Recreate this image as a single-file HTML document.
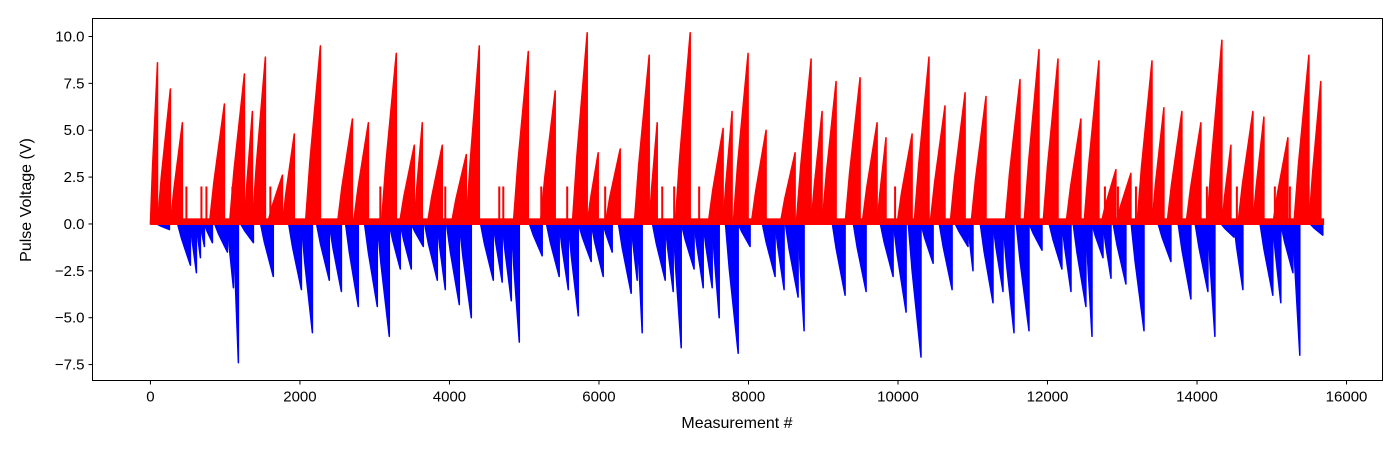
<!DOCTYPE html>
<html><head><meta charset="utf-8"><style>
body{margin:0;background:#fff;}
svg text{font-family:"Liberation Sans","DejaVu Sans",sans-serif;fill:#000;}
</style></head><body>
<svg id="chart" width="1400" height="450" xmlns="http://www.w3.org/2000/svg">
<g id="marks"></g>
<rect x="92.5" y="18.5" width="1290" height="362" fill="none" stroke="#000" stroke-width="1"/>
<g id="xticks"></g><g id="yticks"></g>
<text x="737" y="428" font-size="16" text-anchor="middle">Measurement #</text>
<text transform="translate(31,200) rotate(-90)" font-size="16" text-anchor="middle">Pulse Voltage (V)</text>
</svg>
<script>
const posPeakX=[94,267,428,989,1257,1364,1538,1765,1925,2273,2701,2915,3289,3530,3637,3904,4225,4399,5054,5415,5843,5990,6284,6672,6779,7220,7661,7781,7995,8236,8624,8838,8985,9172,9493,9720,9840,10188,10415,10629,10897,11177,11632,11886,12140,12447,12688,12915,13116,13397,13557,13798,14052,14333,14453,14747,14894,15215,15496,15656];
const posPeakV=[8.6,7.2,5.4,6.4,8.0,6.0,8.9,2.6,4.8,9.5,5.6,5.4,9.1,4.2,5.4,4.2,3.7,9.5,9.2,7.1,10.2,3.8,4.0,9.0,5.4,10.2,5.1,6.0,9.1,5.0,3.8,8.8,6.0,7.6,7.8,5.4,4.6,4.8,8.9,6.3,7.0,6.8,7.7,9.3,8.8,5.6,8.7,2.9,2.7,8.7,6.2,6.0,5.4,9.8,4.2,6.0,5.7,4.6,9.0,7.6];
const negTroughX=[254,535,615,668,722,829,1029,1110,1177,1377,1644,2019,2166,2393,2554,2781,3035,3195,3343,3490,3650,3837,3944,4131,4292,4586,4706,4827,4934,5241,5468,5589,5723,5896,6057,6177,6431,6511,6578,6886,6993,7100,7273,7394,7514,7608,7862,8022,8356,8477,8664,8744,9292,9573,9934,10108,10308,10469,10723,10937,11003,11271,11405,11552,11752,11926,12193,12314,12514,12595,12742,12849,13049,13290,13651,13918,14145,14239,14493,14613,15014,15121,15282,15375,15683];
const negTroughV=[-0.3,-2.2,-2.6,-1.8,-1.2,-1.0,-1.5,-3.4,-7.4,-1.0,-2.8,-3.5,-5.8,-3.0,-3.6,-4.4,-4.4,-6.0,-2.4,-2.4,-1.2,-3.0,-3.5,-4.3,-5.0,-3.0,-3.1,-4.1,-6.3,-1.7,-2.8,-3.5,-4.9,-2.0,-2.8,-1.5,-3.7,-3.0,-5.8,-3.0,-3.6,-6.6,-2.4,-3.4,-3.4,-5.0,-6.9,-1.2,-2.8,-3.5,-3.9,-5.7,-3.8,-3.6,-2.8,-4.7,-7.1,-2.1,-3.5,-1.2,-2.5,-4.2,-3.6,-5.8,-5.7,-1.4,-2.4,-3.6,-4.4,-6.0,-1.8,-2.9,-3.2,-5.7,-2.0,-4.0,-3.6,-6.0,-0.7,-3.5,-3.8,-4.2,-2.6,-7.0,-0.6];
const spikeX=[481,682,749,1096,1444,1604,2875,3075,3944,4666,4720,5228,5575,5682,6083,6565,6846,7006,7340,7701,8129,8543,8891,9961,10094,11030,11806,12621,12768,12942,13183,14132,14239,14533,14707,15041,15242,15630];
const spikeV=[2.0,2.0,2.0,2.0,2.0,2.0,2.0,2.0,2.0,2.0,2.0,2.0,2.0,2.0,2.0,2.0,2.0,2.0,2.0,2.0,2.0,2.0,2.0,2.0,2.0,2.0,2.0,2.0,2.0,2.0,2.0,2.0,2.0,2.0,2.0,2.0,2.0,2.0];
const xTickVals=[0,2000,4000,6000,8000,10000,12000,14000,16000];
const yTickVals=[-7.5,-5.0,-2.5,0.0,2.5,5.0,7.5,10.0];
const seriesEnd=15700;

const NS="http://www.w3.org/2000/svg";
const X0=92.5,X1=1382.5,Y0=18.5,Y1=380.5,xMin=-775,xMax=16481,yMin=-8.35,yMax=10.96;
const sx=v=>X0+(v-xMin)/(xMax-xMin)*(X1-X0);
const sy=v=>Y0+(yMax-v)/(yMax-yMin)*(Y1-Y0);
const marks=document.getElementById('marks');
function poly(pts,color,name){
  const p=document.createElementNS(NS,'polygon');
  p.setAttribute('points',pts.map(q=>sx(q[0]).toFixed(1)+','+sy(q[1]).toFixed(1)).join(' '));
  p.setAttribute('fill',color);p.setAttribute('stroke',color);p.setAttribute('stroke-width','1.5');
  p.setAttribute('stroke-linejoin','round');
  
  
  marks.appendChild(p);
}
let prev=0;
negTroughX.forEach((x,i)=>{
  const s=Math.max(prev,x-170);
  poly([[s,0],[s+(x-s)*0.3,negTroughV[i]*0.35],[x,negTroughV[i]],[x,0]],'#0000ff','negative-pulse');
  prev=x;
});
const bl=document.createElementNS(NS,'rect');
bl.setAttribute('x',sx(0));bl.setAttribute('width',sx(seriesEnd)-sx(0));
bl.setAttribute('y',sy(0.3));bl.setAttribute('height',sy(0)-sy(0.3)+1);
bl.setAttribute('fill','#ff0000');


marks.appendChild(bl);
prev=0;
posPeakX.forEach((x,i)=>{
  const s=Math.max(prev,x-200);
  poly([[s,0],[s+(x-s)*0.3,posPeakV[i]*0.35],[x,posPeakV[i]],[x,0]],'#ff0000','positive-pulse');
  prev=x;
});
spikeX.forEach((x,i)=>{
  const l=document.createElementNS(NS,'line');
  l.setAttribute('x1',sx(x));l.setAttribute('x2',sx(x));
  l.setAttribute('y1',sy(0));l.setAttribute('y2',sy(spikeV[i]));
  l.setAttribute('stroke','#ff0000');l.setAttribute('stroke-width','2');
  
  
  marks.appendChild(l);
});
const xt=document.getElementById('xticks');
xTickVals.forEach(v=>{
  const l=document.createElementNS(NS,'line');
  l.setAttribute('x1',sx(v));l.setAttribute('x2',sx(v));l.setAttribute('y1',Y1);l.setAttribute('y2',Y1+4);
  l.setAttribute('stroke','#000');
  
  
  xt.appendChild(l);
  const t=document.createElementNS(NS,'text');
  t.setAttribute('x',sx(v));t.setAttribute('y',Y1+21);t.setAttribute('font-size','15');t.setAttribute('text-anchor','middle');
  t.textContent=v;
  
  
  xt.appendChild(t);
});
const yt=document.getElementById('yticks');
yTickVals.forEach(v=>{
  const l=document.createElementNS(NS,'line');
  l.setAttribute('x1',X0-4);l.setAttribute('x2',X0);l.setAttribute('y1',sy(v));l.setAttribute('y2',sy(v));
  l.setAttribute('stroke','#000');
  
  
  yt.appendChild(l);
  const t=document.createElementNS(NS,'text');
  t.setAttribute('x',X0-8);t.setAttribute('y',sy(v)+5);t.setAttribute('font-size','15');t.setAttribute('text-anchor','end');
  t.textContent=(v<0?'\u2212':'')+Math.abs(v).toFixed(1);
  
  
  yt.appendChild(t);
});
</script>
</body></html>
